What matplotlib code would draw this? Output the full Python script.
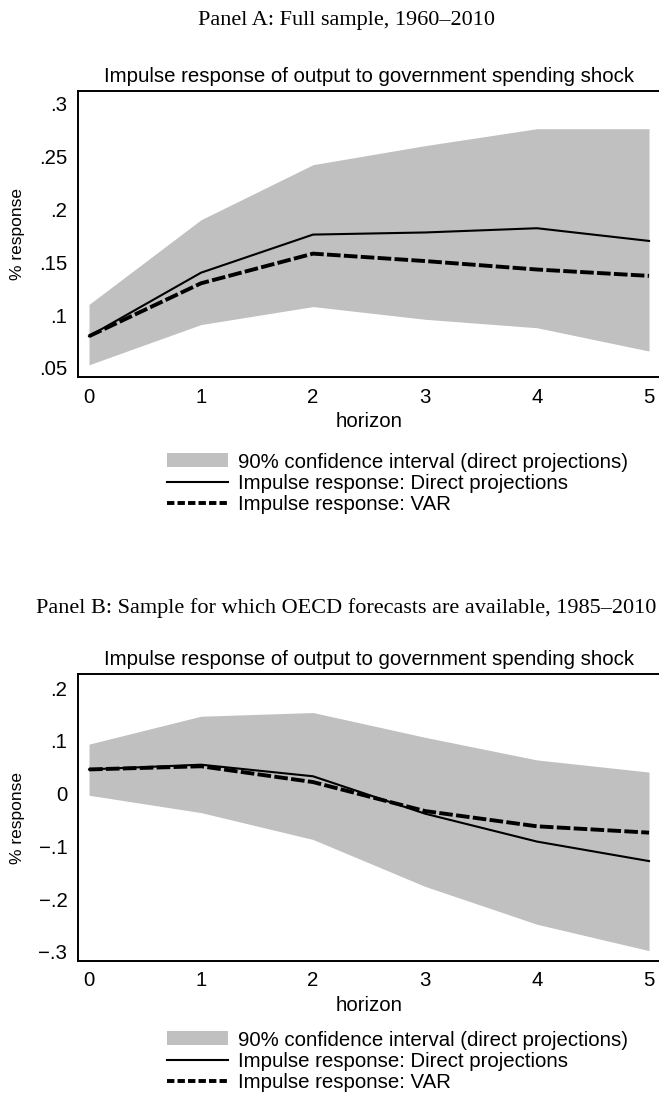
import matplotlib
matplotlib.use("Agg")
import matplotlib.pyplot as plt
from matplotlib.lines import Line2D
from matplotlib.patches import Patch
from matplotlib.ticker import FuncFormatter

# impulse responses, horizons 0..5
horizon = [0, 1, 2, 3, 4, 5]

# Panel A: full sample 1960-2010
ci_lo_a = [0.053, 0.091, 0.108, 0.096, 0.088, 0.066]
ci_hi_a = [0.110, 0.190, 0.242, 0.260, 0.276, 0.276]
dp_a = [0.080, 0.140, 0.176, 0.178, 0.182, 0.170]
var_a = [0.080, 0.130, 0.158, 0.151, 0.143, 0.137]
yticks_a = [0.05, 0.10, 0.15, 0.20, 0.25, 0.30]

# Panel B: OECD-forecast sample 1985-2010
ci_lo_b = [-0.003, -0.036, -0.087, -0.176, -0.248, -0.298]
ci_hi_b = [0.094, 0.147, 0.154, 0.107, 0.064, 0.041]
dp_b = [0.046, 0.055, 0.033, -0.038, -0.091, -0.128]
var_b = [0.046, 0.052, 0.022, -0.033, -0.062, -0.074]
yticks_b = [-0.3, -0.2, -0.1, 0.0, 0.1, 0.2]

panel_titles = ["Panel A: Full sample, 1960\u20132010",
                "Panel B: Sample for which OECD forecasts are available, 1985\u20132010"]
chart_title = "Impulse response of output to government spending shock"
legend_labels = ["90% confidence interval (direct projections)",
                 "Impulse response: Direct projections",
                 "Impulse response: VAR"]

BAND = "#c0c0c0"
SANS = ["Liberation Sans", "DejaVu Sans"]
SERIF = ["Liberation Serif", "DejaVu Serif"]
FS = 14.7

W, H = 659, 1098
fig = plt.figure(figsize=(W / 100, H / 100), dpi=100)
fig.patch.set_facecolor("white")


def stata_fmt(v, _pos):
    # Stata style: .25, -.1, 0
    if abs(v) < 1e-12:
        return "0"
    s = f"{abs(v):.2f}".rstrip("0").lstrip("0")
    return ("\u2212" if v < 0 else "") + s


def panel(top_px, bottom_px, lo, hi, dp, var, yticks, ylim, ptitle, ptitle_y, leg_y):
    left_px, right_px = 77.7, 661
    ax = fig.add_axes([left_px / W, 1 - bottom_px / H,
                       (right_px - left_px) / W, (bottom_px - top_px) / H])
    ax.fill_between(horizon, lo, hi, color=BAND, linewidth=0)
    ax.plot(horizon, dp, color="black", lw=1.5, solid_joinstyle="miter")
    ax.plot(horizon, var, color="black", lw=2.8, linestyle=(0, (3.5, 0.85)))
    ax.set_xlim(-0.101, 5.107)
    ax.set_ylim(*ylim)
    ax.set_xticks(horizon)
    ax.set_yticks(yticks)
    ax.yaxis.set_major_formatter(FuncFormatter(stata_fmt))
    ax.tick_params(length=0, labelsize=FS, pad=7.5)
    for lab in ax.get_xticklabels() + ax.get_yticklabels():
        lab.set_family(SANS)
    for side in ["top", "left", "bottom"]:
        ax.spines[side].set_linewidth(1.4)
    ax.spines["right"].set_visible(False)
    ax.set_xlabel("horizon", family=SANS, fontsize=FS, labelpad=4)
    ax.set_ylabel("% response", family=SANS, fontsize=12.5, labelpad=10)
    ax.set_title(chart_title, family=SANS, fontsize=FS, pad=6.5)

    fig.text(346 / W, 1 - ptitle_y / H, ptitle, family=SERIF, fontsize=16,
             ha="center", va="center")

    handles = [Patch(facecolor=BAND, edgecolor="none"),
               Line2D([], [], color="black", lw=1.5),
               Line2D([], [], color="black", lw=2.8, linestyle=(0, (1.9, 0.8)))]
    fig.legend(handles, legend_labels, loc="upper left",
               bbox_to_anchor=(167 / W, 1 - leg_y / H), bbox_transform=fig.transFigure,
               frameon=False, prop={"family": SANS, "size": FS},
               handlelength=2.97, handleheight=0.68, handletextpad=0.49,
               labelspacing=0.11, borderpad=0, borderaxespad=0)
    return ax


panel(90.7, 377.3, ci_lo_a, ci_hi_a, dp_a, var_a, yticks_a, (0.0412, 0.3119),
      panel_titles[0], 20, 452.5)
panel(674.3, 961, ci_lo_b, ci_hi_b, dp_b, var_b, yticks_b, (-0.3177, 0.2266),
      panel_titles[1], 608, 1030.5)

fig.savefig("out.png", dpi=100, facecolor="white")
